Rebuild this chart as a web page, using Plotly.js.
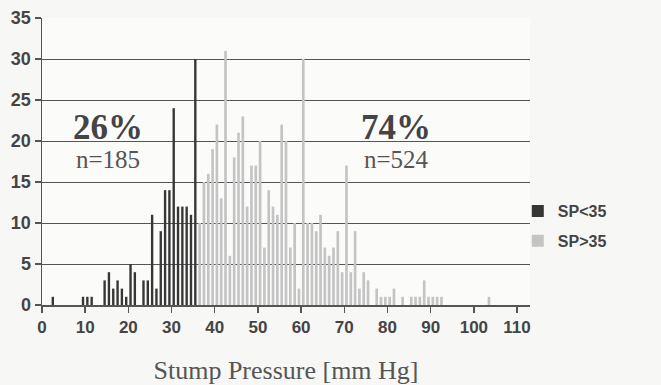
<!DOCTYPE html>
<html>
<head>
<meta charset="utf-8">
<script src="https://cdn.plot.ly/plotly-3.0.1.min.js"></script>
<style>
  html, body { margin: 0; padding: 0; background: #f7f7f5; }
  #chart { width: 661px; height: 385px; }
</style>
</head>
<body>
<div id="chart"></div>
<script>
// Histogram bins (1 mm Hg wide, value = lower bin edge) and counts
var lowBins   = [2, 9, 10, 11, 14, 15, 16, 17, 18, 19, 20, 21, 23, 24, 25, 26, 27, 28, 29, 30, 31, 32, 33, 34, 35];
var lowCounts = [1, 1, 1, 1, 3, 4, 2, 3, 2, 1, 5, 4, 3, 3, 11, 2, 9, 14, 14, 24, 12, 12, 12, 11, 30];

var highBins   = [36, 37, 38, 39, 40, 41, 42, 43, 44, 45, 46, 47, 48, 49, 50, 51, 52, 53, 54, 55,
                  56, 57, 58, 59, 60, 61, 62, 63, 64, 65, 66, 67, 68, 69, 70, 71, 72, 73, 74, 75,
                  77, 78, 79, 80, 81, 83, 85, 86, 87, 88, 89, 90, 91, 92, 103];
var highCounts = [10, 15, 16, 19, 22, 13, 31, 6, 18, 21, 23, 12, 17, 17, 20, 7, 14, 12, 11, 22,
                  20, 7, 10, 2, 30, 10, 10, 9, 11, 7, 6, 7, 9, 4, 17, 4, 9, 2, 4, 3,
                  2, 1, 1, 1, 2, 1, 1, 1, 1, 3, 1, 1, 1, 1, 1];

var seriesNames = ["SP<35", "SP>35"];
var xTicks = [0, 10, 20, 30, 40, 50, 60, 70, 80, 90, 100, 110];
var yTicks = [0, 5, 10, 15, 20, 25, 30, 35];
var xTitle = "Stump Pressure [mm Hg]";
var groupLabels = [
  {pct: "26%", n: "n=185", x: 15.3},
  {pct: "74%", n: "n=524", x: 82.0}
];

var binWidth = 1;
function centers(b) { return b.map(function (v) { return v + binWidth / 2; }); }

var traces = [
  {
    type: "bar", name: seriesNames[0], legendgroup: "a",
    x: centers(lowBins), y: lowCounts,
    width: 0.55,
    marker: {color: "#363636", line: {width: 0}}
  },
  {
    type: "bar", name: seriesNames[1], legendgroup: "b",
    x: centers(highBins), y: highCounts,
    width: 0.62,
    marker: {color: "#c4c4c4", line: {width: 0}}
  }
];

var annotations = [];
groupLabels.forEach(function (g) {
  annotations.push({
    x: g.x, y: 21.7, xref: "x", yref: "y", text: "<b>" + g.pct + "</b>", showarrow: false,
    font: {family: "Liberation Serif, serif", size: 35, color: "#444"}
  });
  annotations.push({
    x: g.x, y: 17.7, xref: "x", yref: "y", text: g.n, showarrow: false,
    font: {family: "Liberation Serif, serif", size: 25, color: "#555"}
  });
});

var layout = {
  width: 661, height: 385,
  margin: {l: 42, r: 131, t: 18, b: 80},
  paper_bgcolor: "#f7f7f5",
  plot_bgcolor: "#fbfbfa",
  barmode: "overlay",
  showlegend: true,
  legend: {
    x: 0.975, xanchor: "left", y: 0.275, yanchor: "middle",
    bgcolor: "rgba(0,0,0,0)",
    font: {family: "Liberation Sans, Arial, sans-serif", size: 16, color: "#444", weight: "bold"},
    itemwidth: 30, tracegroupgap: 6
  },
  xaxis: {
    range: [0, 113],
    tickvals: xTicks, ticktext: xTicks.map(String),
    ticks: "outside", ticklen: 6, tickcolor: "#555", tickwidth: 1.5,
    showgrid: false, zeroline: false,
    showline: true, linecolor: "#555", linewidth: 1.5,
    tickfont: {family: "Liberation Sans, Arial, sans-serif", size: 17, color: "#444", weight: "bold"},
    title: {text: xTitle, standoff: 28,
            font: {family: "Liberation Serif, serif", size: 26, color: "#555"}}
  },
  yaxis: {
    range: [0, 35],
    tickvals: yTicks, ticktext: yTicks.map(String),
    ticks: "outside", ticklen: 6, tickcolor: "#555", tickwidth: 1.5,
    showgrid: true, gridcolor: "#555", gridwidth: 1,
    zeroline: false,
    showline: true, linecolor: "#555", linewidth: 1.5,
    tickfont: {family: "Liberation Sans, Arial, sans-serif", size: 18, color: "#444", weight: "bold"}
  },
  annotations: annotations
};

Plotly.newPlot("chart", traces, layout, {displayModeBar: false, staticPlot: true});
</script>
</body>
</html>
